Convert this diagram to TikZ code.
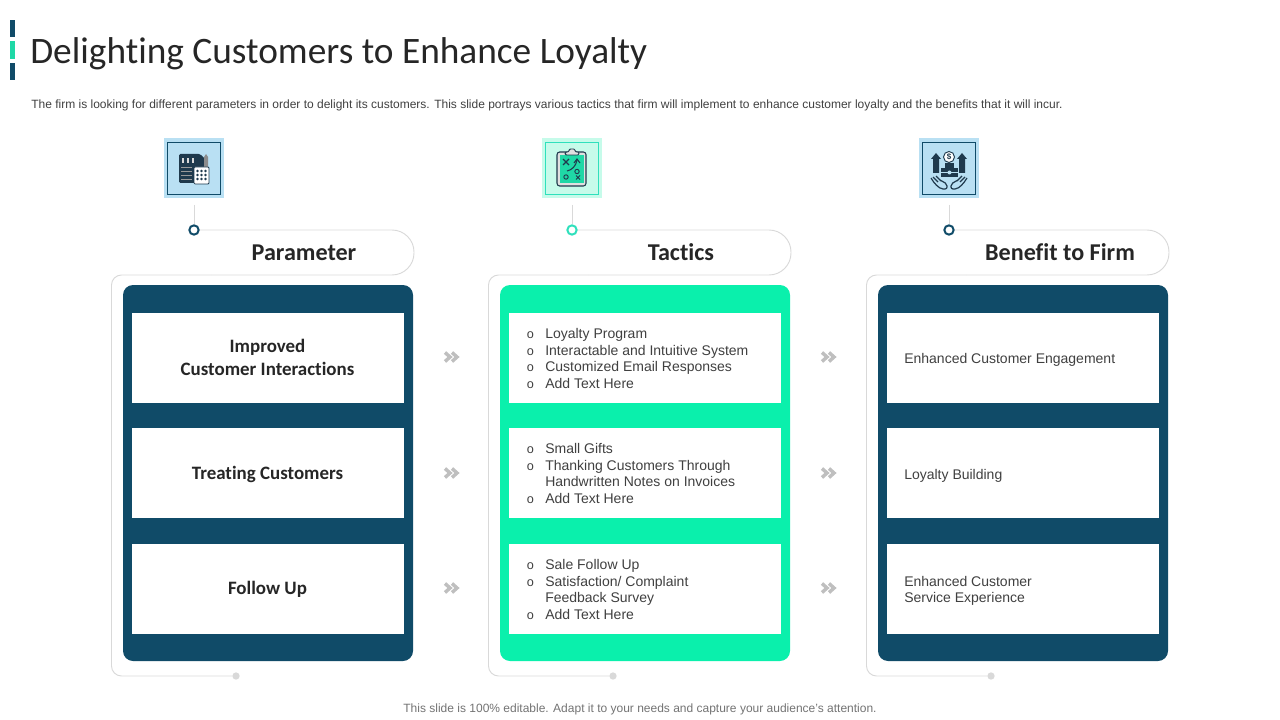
\documentclass[tikz,border=0pt]{standalone}
\usepackage{fontspec}
\setmainfont{Liberation Sans}
\newfontfamily\carlito[Ligatures=NoCommon]{Carlito}
\usetikzlibrary{calc}
\definecolor{darkblue}{HTML}{104B68}
\definecolor{mint}{HTML}{0AF0AC}
\definecolor{barmint}{HTML}{1FD8A6}
\definecolor{paleblue}{HTML}{B9E0F3}
\definecolor{palemint}{HTML}{C6FBEA}
\definecolor{ringmint}{HTML}{2FE0BC}
\definecolor{linegray}{HTML}{D9D9D9}
\definecolor{bodygray}{HTML}{404040}
\definecolor{inkdark}{HTML}{1F3A4D}
\newcommand{\bul}{\makebox[13.5pt]{\fontsize{9.5}{9.5}\selectfont o}\hspace{4.5pt}}
\newcommand{\nobul}{\hspace{18pt}}
\tikzset{
  panel/.style={rounded corners=7.5pt,minimum width=217.5pt,minimum height=282pt,inner sep=0pt},
  whitebox/.style={fill=white,minimum width=204pt,minimum height=67.5pt,inner sep=0pt},
  headtext/.style={font=\carlito\bfseries\fontsize{18.1}{20}\selectfont,text=black!85},
  boldtext/.style={font=\carlito\bfseries\fontsize{14.2}{17.3}\selectfont,text=black!85,align=center},
  plaintext/.style={font=\fontsize{10.5}{12.45}\selectfont,text=bodygray,align=left,anchor=west,inner sep=0pt},
  tabline/.style={draw=linegray,line width=.7pt},
  chevron/.style={draw=black!25,line width=2.6pt,miter limit=4}
}
\begin{document}
\begin{tikzpicture}[x=.75pt,y=-.75pt]
  \useasboundingbox (0,0) rectangle (1280,720);
  % title
  \fill[darkblue] (10,20) rectangle (15,37);
  \fill[barmint] (10,41) rectangle (15,59);
  \fill[darkblue] (10,63) rectangle (15,80);
  \node[anchor=west,inner sep=0pt,font=\carlito\fontsize{28}{32}\selectfont,text=black!85] (title) at (30,53.5) {Delighting Customers to Enhance Loyalty};
  \node[anchor=west,inner sep=0pt,font=\fontsize{9}{11}\selectfont,text=bodygray] (sub) at (31,105.5) {The firm is looking for different parameters in order to delight its customers. This slide portrays various tactics that firm will implement to enhance customer loyalty and the benefits that it will incur.};
  \node[inner sep=0pt,font=\fontsize{9}{11}\selectfont,text=black!55] (foot) at (640,709.5) {This slide is 100\% editable. Adapt it to your needs and capture your audience's attention.};

  % three columns
  \foreach \col/\dx/\dotx/\endx/\headx/\colr/\pale/\ring/\head in {
      par/0/194/236/304/darkblue/paleblue/darkblue/Parameter,
      tac/377/572/613/681/mint/palemint/ringmint/Tactics,
      ben/755/949/991/1060/darkblue/paleblue/darkblue/Benefit to Firm} {
    \node[fill=\pale,minimum size=45pt,inner sep=0pt] (icon\col) at (\dotx,168) {};
    \node[draw=\ring,line width=.9pt,minimum size=39.5pt,inner sep=0pt] (frame\col) at (\dotx,168.5) {};
    \node[circle,draw=\ring,fill=white,line width=1.5pt,minimum size=7pt,inner sep=0pt] (dot\col) at (\dotx,230) {};
    \node[circle,fill=linegray,minimum size=5.5pt,inner sep=0pt] (end\col) at (\endx,676) {};
    \draw[tabline] (\dotx,205) -- (dot\col);
    \draw[tabline,rounded corners=16.5pt] (dot\col) -- ($(414,230)+(\dx,0)$) -- ($(414,275)+(\dx,0)$) -- ($(211,275)+(\dx,0)$);
    \draw[tabline,rounded corners=7.5pt] ($(211,275)+(\dx,0)$) -- ($(111.5,275)+(\dx,0)$) -- ($(111.5,676)+(\dx,0)$) -- (end\col);
    \node[headtext] (head\col) at (\headx,252.5) {\head};
    \node[panel,fill=\colr] (panel\col) at ($(268,473)+(\dx,0)$) {};
    \node[whitebox] (boxa\col) at ($(268,358)+(\dx,0)$) {};
    \node[whitebox] (boxb\col) at ($(268,473)+(\dx,0)$) {};
    \node[whitebox] (boxc\col) at ($(268,589)+(\dx,0)$) {};
  }

  % box texts
  \node[boldtext] (para) at (267.5,357.5) {Improved\\Customer Interactions};
  \node[boldtext] (parb) at (267.5,474) {Treating Customers};
  \node[boldtext] (parc) at (267.5,589) {Follow Up};
  \node[plaintext] (taca) at (521,358.3) {\bul Loyalty Program\\\bul Interactable and Intuitive System\\\bul Customized Email Responses\\\bul Add Text Here};
  \node[plaintext] (tacb) at (521,473.3) {\bul Small Gifts\\\bul Thanking Customers Through\\\nobul Handwritten Notes on Invoices\\\bul Add Text Here};
  \node[plaintext] (tacc) at (521,589.3) {\bul Sale Follow Up\\\bul Satisfaction/ Complaint\\\nobul Feedback Survey\\\bul Add Text Here};
  \node[plaintext] (bena) at (904,360) {Enhanced Customer Engagement};
  \node[plaintext] (benb) at (904,476) {Loyalty Building};
  \node[plaintext] (benc) at (904,591) {Enhanced Customer\\Service Experience};

  % chevrons
  \foreach \cx in {451,828} {
    \foreach \cy in {357,473,588} {
      \draw[chevron] (\cx-6,\cy-4.5) -- (\cx-1,\cy) -- (\cx-6,\cy+4.5);
      \draw[chevron] (\cx+1,\cy-4.5) -- (\cx+6,\cy) -- (\cx+1,\cy+4.5);
    }
  }

  % icon: document and calculator
  \fill[inkdark,rounded corners=1pt] (179,154) -- (200,154) -- (205,159) -- (205,183) -- (179,183) -- cycle;
  \foreach \mx in {183,188,193} { \fill[black!15] (\mx-1,158) rectangle (\mx+1,163); }
  \foreach \my in {167,171,175,179} { \draw[black!40,line width=.3pt] (181,\my) -- (192,\my); }
  \fill[black!45] (204,157) -- (206,154) -- (208,157) -- (208,167) -- (204,167) -- cycle;
  \draw[inkdark,fill=white,line width=.6pt,rounded corners=.8pt] (194,167) rectangle (209,184);
  \foreach \mx in {197.5,201.5,205.5} { \foreach \my in {171,175,179} { \fill[inkdark] (\mx,\my) circle (1.3); } }

  % icon: clipboard
  \draw[inkdark,fill=black!12,line width=.8pt,rounded corners=2pt] (557,152) rectangle (586,186);
  \fill[barmint] (559.5,155) rectangle (583.5,183);
  \draw[inkdark,fill=black!12,line width=.7pt,rounded corners=1pt] (565,155) -- (565,152) -- (569,152) -- (569,149) -- (575,149) -- (575,152) -- (579,152) -- (579,155) -- cycle;
  \draw[inkdark,line width=.9pt] (563,159) -- (569,165) (569,159) -- (563,165);
  \draw[inkdark,line width=.7pt] (576,175.5) -- (580,179.5) (580,175.5) -- (576,179.5);
  \draw[inkdark,line width=.8pt] (567,171) .. controls (572,170) and (576,166) .. (577,160);
  \draw[inkdark,line width=.8pt] (574,163) -- (577,159) -- (580,163);
  \draw[inkdark,line width=.7pt] (566,177) circle (2.2);
  \draw[inkdark,line width=.7pt] (577,171.5) circle (2.2);

  % icon: money and hands
  \fill[inkdark] (936,153) -- (941,159) -- (939,159) -- (939,173) -- (933,173) -- (933,159) -- (931,159) -- cycle;
  \fill[inkdark] (962,153) -- (967,159) -- (965,159) -- (965,173) -- (959,173) -- (959,159) -- (957,159) -- cycle;
  \draw[inkdark,fill=white,line width=.7pt] (949,157) circle (5.5);
  \node[inner sep=0pt,font=\fontsize{6}{6}\selectfont\bfseries,text=inkdark] (coin) at (949,157) {\$};
  \fill[inkdark] (945,163.5) rectangle (954,168);
  \fill[inkdark] (941,168) rectangle (958,177);
  \draw[paleblue,line width=.3pt] (941,172.5) -- (958,172.5);
  \fill[paleblue] (949.5,172.5) circle (2);
  \draw[inkdark,line width=.9pt,rounded corners=1.5pt] (931,178) -- (935,184) -- (941,189) -- (947,189) -- (947,184) -- (940,180) (933,177) -- (938,182) (936,176) -- (941,181);
  \draw[inkdark,line width=.9pt,rounded corners=1.5pt] (967,178) -- (963,184) -- (957,189) -- (951,189) -- (951,184) -- (958,180) (965,177) -- (960,182) (962,176) -- (957,181);
\end{tikzpicture}
\end{document}
